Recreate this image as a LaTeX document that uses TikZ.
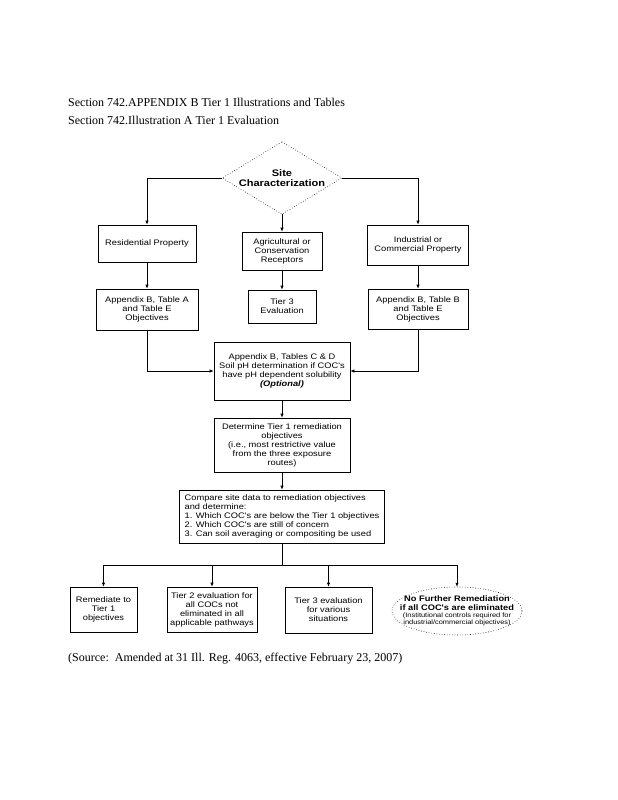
\documentclass[tikz,border=0pt]{standalone}
\usepackage{fontspec}
\setmainfont{Liberation Serif}
\newfontfamily\bx{Liberation Sans}[FakeStretch=1.16]
\usetikzlibrary{arrows.meta}
\tikzset{
  box/.style={draw, line width=0.6pt, inner sep=1pt, align=center, font=\bx\fontsize{8}{9}\selectfont},
  plain/.style={inner sep=1pt, align=center, font=\bx\fontsize{8}{9}\selectfont},
  conn/.style={line width=0.6pt},
  arr/.style={conn, -{Latex[length=4pt,width=3.2pt]}},
  head/.style={anchor=base west, inner sep=0pt, font=\fontsize{12}{14}\selectfont}
}
\begin{document}
\begin{tikzpicture}[x=1pt,y=-1pt]
\useasboundingbox[fill=white] (0,0) rectangle (618,800);
% headings
\node[head] (h1) at (68,106) {Section 742.APPENDIX B Tier 1 Illustrations and Tables};
\node[head] (h2) at (68,124) {Section 742.Illustration A Tier 1 Evaluation};
\node[head] (src) at (68,661) {(Source:\ \ Amended at 31 Ill. Reg. 4063, effective February 23, 2007)};
% diamond
\node[plain, minimum width=119pt, minimum height=72pt, font=\bx\bfseries\fontsize{9.5}{10.5}\selectfont] (site) at (282,178) {Site\\Characterization};
\draw[conn, dotted] (site.north) -- (site.east) -- (site.south) -- (site.west) -- cycle;
% row 1
\node[box, minimum width=98pt, minimum height=37pt] (res) at (147,243.5) {Residential Property};
\node[box, minimum width=80pt, minimum height=38pt] (agr) at (282,251) {Agricultural or\\Conservation\\Receptors};
\node[box, minimum width=101pt, minimum height=40pt] (ind) at (418,245) {Industrial or\\Commercial Property};
% row 2
\node[box, minimum width=102pt, minimum height=41pt] (tabA) at (147,309.5) {Appendix B, Table A\\and Table E\\Objectives};
\node[box, minimum width=68pt, minimum height=33pt] (t3a) at (282,306.5) {Tier 3\\Evaluation};
\node[box, minimum width=100pt, minimum height=40pt] (tabB) at (418,309) {Appendix B, Table B\\and Table E\\Objectives};
% middle column
\node[box, minimum width=136pt, minimum height=58pt] (cd) at (282,371) {Appendix B, Tables C \& D\\Soil pH determination if COC's\\have pH dependent solubility\\\textbf{\textit{(Optional)}}};
\node[box, minimum width=136pt, minimum height=54pt] (det) at (282,445) {Determine Tier 1 remediation\\objectives\\(i.e., most restrictive value\\from the three exposure\\routes)};
\node[box, align=left, minimum width=205pt, minimum height=53pt] (cmp) at (282,516.5) {Compare site data to remediation objectives\\and determine:\\1. Which COC's are below the Tier 1 objectives\\2. Which COC's are still of concern\\3. Can soil averaging or compositing be used};
% bottom row
\node[box, minimum width=67pt, minimum height=45pt] (rem) at (103.5,609.5) {Remediate to\\Tier 1\\objectives};
\node[box, minimum width=90pt, minimum height=45pt] (t2) at (212,609.5) {Tier 2 evaluation for\\all COCs not\\eliminated in all\\applicable pathways};
\node[box, minimum width=87pt, minimum height=46pt] (t3b) at (328.5,610) {Tier 3 evaluation\\for various\\situations};
\node[plain, minimum width=130pt, minimum height=48pt] (nf) at (457,611) {\textbf{No Further Remediation}\\\textbf{if all COC's are eliminated}\\[-2pt]{\fontsize{6.4}{7}\selectfont (Institutional controls required for}\\[-2pt]{\fontsize{6.4}{7}\selectfont industrial/commercial objectives)}};
\draw[conn, dotted] (nf.center) ellipse [x radius=65, y radius=24];
% connectors
\draw[arr] (site.west) -| (res.north);
\draw[arr] (site.east) -| (ind.north);
\draw[arr] (site.south) -- (agr.north);
\draw[arr] (res.south) -- (tabA.north);
\draw[arr] (agr.south) -- (t3a.north);
\draw[arr] (ind.south) -- (tabB.north);
\draw[arr] (tabA.south) |- (cd.west);
\draw[arr] (tabB.south) |- (cd.east);
\draw[arr] (cd.south) -- (det.north);
\draw[arr] (det.south) -- (cmp.north);
\coordinate (split) at (282,565);
\draw[conn] (cmp.south) -- (split);
\draw[conn] (rem.north |- split) -- (nf.north |- split);
\draw[arr] (rem.north |- split) -- (rem.north);
\draw[arr] (t2.north |- split) -- (t2.north);
\draw[arr] (t3b.north |- split) -- (t3b.north);
\draw[arr] (nf.north |- split) -- (nf.north);
\end{tikzpicture}
\end{document}
